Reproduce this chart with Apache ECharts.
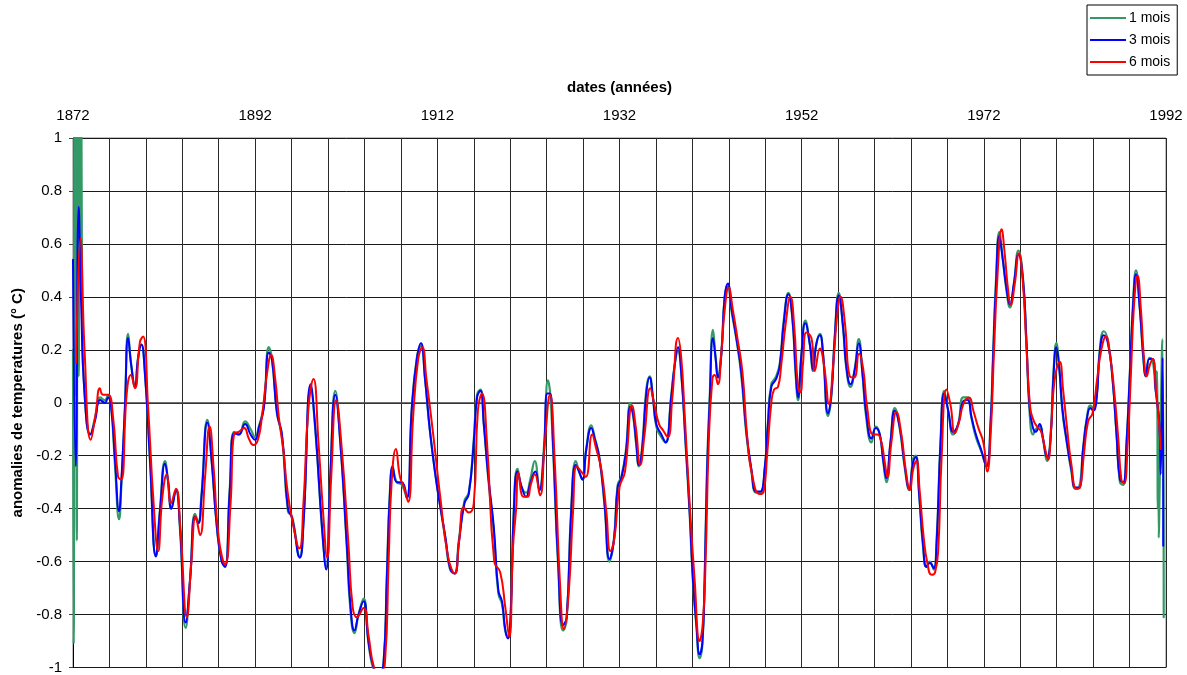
<!DOCTYPE html>
<html>
<head>
<meta charset="utf-8">
<script src="https://cdn.jsdelivr.net/npm/echarts@6/dist/echarts.min.js"></script>
<style>
html,body{margin:0;padding:0;background:#fff;}
#chart{width:1187px;height:675px;}
</style>
</head>
<body>
<div id="chart"></div>
<script>
// ---- data: [year, anomaly °C] ----
const seriesNames = ['1 mois', '3 mois', '6 mois'];
const yearTicks = [1872, 1892, 1912, 1932, 1952, 1972, 1992];

const mois1 = [
[1872.0,0.2],[1872.08,-0.91],[1872.16,1.2],[1872.25,0.03],[1872.33,1.2],[1872.42,-0.52],[1872.5,1.2],[1872.62,0.1],[1872.75,1.2],[1872.84,0.45],[1872.92,1.1],[1873.0,0.3],
[1873.28,0.03],[1873.9,-0.12],[1874.4,-0.06],[1875.0,0.02],[1875.5,0.01],[1875.85,0.03],[1876.2,-0.02],[1876.6,-0.23],[1877.06,-0.44],[1877.3,-0.32],
[1877.7,-0.02],[1878.05,0.26],[1878.4,0.14],[1878.8,0.06],[1879.15,0.17],[1879.5,0.22],[1879.9,0.11],[1880.45,-0.22],[1881.1,-0.58],[1881.55,-0.40],
[1882.1,-0.22],[1882.45,-0.30],[1882.8,-0.40],[1883.3,-0.33],[1883.75,-0.48],[1884.37,-0.85],[1884.85,-0.67],[1885.4,-0.42],[1885.76,-0.45],[1886.1,-0.35],
[1886.75,-0.065],[1887.2,-0.21],[1887.8,-0.47],[1888.33,-0.60],[1888.7,-0.61],[1889.2,-0.33],[1889.7,-0.11],[1890.2,-0.12],[1890.9,-0.07],[1891.5,-0.10],
[1892.0,-0.13],[1892.4,-0.09],[1892.95,-0.01],[1893.5,0.21],[1893.86,0.16],[1894.4,-0.04],[1894.95,-0.13],[1895.6,-0.41],[1896.05,-0.43],[1896.9,-0.58],
[1897.3,-0.45],[1898.1,0.05],[1898.6,-0.10],[1899.35,-0.48],[1899.8,-0.62],[1900.25,-0.27],[1900.8,0.045],[1901.35,-0.15],[1902.07,-0.55],[1902.45,-0.78],
[1902.9,-0.87],[1903.35,-0.80],[1903.9,-0.74],[1904.45,-0.91],[1905.0,-1.01],[1905.5,-1.03],[1906.1,-0.98],[1906.45,-0.66],[1906.8,-0.33],[1907.1,-0.25],
[1907.55,-0.30],[1908.1,-0.31],[1908.65,-0.36],[1909.2,-0.02],[1909.75,0.17],[1910.2,0.215],[1910.65,0.09],[1911.2,-0.11],[1911.9,-0.30],[1912.36,-0.40],
[1912.9,-0.52],[1913.4,-0.63],[1913.9,-0.645],[1914.36,-0.52],[1914.98,-0.37],[1915.45,-0.34],[1916.0,-0.14],[1916.36,0.03],[1916.73,0.05],[1917.1,-0.08],
[1917.6,-0.29],[1918.2,-0.49],[1918.7,-0.72],[1919.1,-0.76],[1919.45,-0.86],[1919.75,-0.885],[1920.05,-0.80],[1920.4,-0.40],[1920.8,-0.25],[1921.27,-0.32],
[1921.75,-0.34],[1922.2,-0.29],[1922.7,-0.22],[1923.2,-0.33],[1923.7,-0.17],[1924.15,0.085],[1924.4,0.03],[1924.7,-0.17],[1925.27,-0.62],[1925.8,-0.86],
[1926.2,-0.82],[1926.7,-0.40],[1927.2,-0.22],[1927.56,-0.26],[1927.93,-0.29],[1928.36,-0.17],[1928.9,-0.085],[1929.27,-0.13],[1929.8,-0.21],[1930.36,-0.39],
[1930.9,-0.60],[1931.4,-0.51],[1931.8,-0.31],[1932.2,-0.28],[1932.7,-0.18],[1933.2,0.0],[1933.5,-0.05],[1933.84,-0.16],[1934.13,-0.24],[1934.5,-0.16],
[1934.94,0.05],[1935.3,0.10],[1935.67,0.02],[1936.04,-0.09],[1936.6,-0.13],[1937.06,-0.15],[1937.68,0.03],[1938.05,0.14],[1938.42,0.195],[1938.78,0.11],
[1939.26,-0.16],[1939.7,-0.42],[1940.07,-0.68],[1940.43,-0.84],[1940.8,-0.965],[1941.1,-0.91],[1941.35,-0.66],[1941.6,-0.26],[1941.9,0.02],[1942.26,0.275],
[1942.56,0.17],[1942.8,0.10],[1943.18,0.19],[1943.55,0.40],[1943.9,0.44],[1944.28,0.35],[1944.83,0.24],[1945.38,0.10],[1945.93,-0.12],[1946.48,-0.26],
[1947.0,-0.34],[1947.46,-0.34],[1947.94,-0.25],[1948.3,-0.07],[1948.67,0.07],[1949.2,0.10],[1949.6,0.15],[1950.03,0.31],[1950.54,0.415],[1950.98,0.32],
[1951.35,0.10],[1951.6,0.01],[1951.97,0.18],[1952.4,0.31],[1952.9,0.22],[1953.25,0.12],[1953.6,0.22],[1954.0,0.26],[1954.35,0.18],[1954.9,-0.05],
[1955.27,0.03],[1955.63,0.25],[1956.07,0.415],[1956.55,0.28],[1956.9,0.13],[1957.36,0.06],[1957.83,0.13],[1958.27,0.24],[1958.67,0.11],[1959.1,-0.06],
[1959.66,-0.15],[1960.14,-0.09],[1960.58,-0.12],[1960.95,-0.22],[1961.3,-0.30],[1961.75,-0.15],[1962.23,-0.02],[1962.78,-0.10],[1963.33,-0.25],[1963.8,-0.33],
[1964.24,-0.21],[1964.53,-0.20],[1964.9,-0.35],[1965.34,-0.55],[1965.7,-0.62],[1966.07,-0.60],[1966.5,-0.63],[1966.8,-0.53],[1967.25,-0.14],[1967.65,0.045],
[1968.09,-0.03],[1968.64,-0.12],[1969.19,-0.08],[1969.74,0.02],[1970.2,0.02],[1970.65,-0.06],[1971.13,-0.13],[1971.68,-0.18],[1972.3,-0.24],[1972.74,-0.07],
[1973.03,0.20],[1973.33,0.46],[1973.7,0.645],[1974.06,0.55],[1974.5,0.42],[1974.86,0.36],[1975.3,0.45],[1975.8,0.575],[1976.3,0.47],[1976.66,0.24],
[1977.03,-0.04],[1977.4,-0.12],[1977.7,-0.10],[1978.13,-0.09],[1978.5,-0.14],[1978.94,-0.22],[1979.3,-0.14],[1979.67,0.13],[1979.96,0.225],[1980.26,0.14],
[1980.62,-0.03],[1981.06,-0.14],[1981.61,-0.26],[1982.06,-0.325],[1982.46,-0.32],[1982.9,-0.17],[1983.34,-0.05],[1983.7,-0.01],[1984.0,-0.02],[1984.37,0.02],
[1984.73,0.20],[1985.17,0.27],[1985.65,0.23],[1986.13,0.09],[1986.57,-0.12],[1986.94,-0.30],[1987.3,-0.31],[1987.67,-0.15],[1988.04,0.12],[1988.4,0.39],
[1988.7,0.50],[1989.14,0.35],[1989.5,0.17],[1989.8,0.10],[1990.17,0.17],[1990.53,0.16],[1990.9,0.04],[1991.0,0.12],[1991.1,-0.40],[1991.15,0.0],
[1991.2,-0.51],[1991.4,-0.1],[1991.6,0.24],[1991.75,-0.81]
];

const mois3 = [
[1872.0,0.54],[1872.3,-0.24],[1872.62,0.74],[1872.9,0.37],[1873.28,0.03],[1873.9,-0.12],[1874.4,-0.07],[1875.0,0.01],[1875.5,0.0],[1875.85,0.02],
[1876.2,-0.02],[1876.6,-0.21],[1877.06,-0.41],[1877.3,-0.30],[1877.7,-0.02],[1878.05,0.245],[1878.4,0.14],[1878.8,0.06],[1879.15,0.17],[1879.5,0.22],
[1879.9,0.11],[1880.45,-0.21],[1881.1,-0.58],[1881.55,-0.41],[1882.1,-0.23],[1882.45,-0.30],[1882.8,-0.40],[1883.3,-0.33],[1883.75,-0.47],[1884.37,-0.83],
[1884.85,-0.67],[1885.4,-0.43],[1885.76,-0.455],[1886.1,-0.36],[1886.75,-0.075],[1887.2,-0.21],[1887.8,-0.47],[1888.33,-0.60],[1888.7,-0.62],[1889.2,-0.34],
[1889.7,-0.115],[1890.2,-0.12],[1890.9,-0.08],[1891.5,-0.12],[1892.0,-0.14],[1892.4,-0.095],[1892.95,-0.02],[1893.5,0.19],[1893.86,0.16],[1894.4,-0.04],
[1894.95,-0.12],[1895.6,-0.40],[1896.05,-0.435],[1896.9,-0.585],[1897.3,-0.46],[1898.1,0.07],[1898.6,-0.095],[1899.35,-0.475],[1899.8,-0.63],[1900.25,-0.28],
[1900.8,0.03],[1901.35,-0.15],[1902.07,-0.54],[1902.45,-0.76],[1902.9,-0.86],[1903.35,-0.80],[1903.9,-0.75],[1904.45,-0.905],[1905.0,-1.0],[1905.5,-1.03],
[1906.1,-0.98],[1906.45,-0.67],[1906.8,-0.34],[1907.1,-0.24],[1907.55,-0.30],[1908.1,-0.30],[1908.65,-0.36],[1909.2,-0.02],[1909.75,0.165],[1910.2,0.225],
[1910.65,0.09],[1911.2,-0.11],[1911.9,-0.30],[1912.36,-0.40],[1912.9,-0.51],[1913.4,-0.625],[1913.9,-0.645],[1914.36,-0.53],[1914.98,-0.38],[1915.45,-0.345],
[1916.0,-0.15],[1916.36,0.02],[1916.73,0.045],[1917.1,-0.08],[1917.6,-0.28],[1918.2,-0.47],[1918.7,-0.71],[1919.1,-0.75],[1919.45,-0.855],[1919.75,-0.89],
[1920.05,-0.80],[1920.4,-0.41],[1920.8,-0.26],[1921.27,-0.32],[1921.75,-0.355],[1922.2,-0.305],[1922.76,-0.26],[1923.2,-0.33],[1923.7,-0.19],[1924.07,0.035],
[1924.36,0.035],[1924.7,-0.15],[1925.27,-0.605],[1925.8,-0.84],[1926.2,-0.81],[1926.7,-0.41],[1927.2,-0.235],[1927.56,-0.26],[1927.93,-0.29],[1928.36,-0.175],
[1928.9,-0.095],[1929.27,-0.135],[1929.8,-0.21],[1930.36,-0.38],[1930.9,-0.59],[1931.4,-0.515],[1931.8,-0.32],[1932.2,-0.285],[1932.7,-0.19],[1933.2,-0.015],
[1933.5,-0.045],[1933.84,-0.15],[1934.13,-0.235],[1934.5,-0.17],[1934.94,0.035],[1935.3,0.095],[1935.67,0.02],[1936.04,-0.08],[1936.6,-0.12],[1937.06,-0.15],
[1937.68,0.02],[1938.05,0.14],[1938.42,0.21],[1938.78,0.115],[1939.26,-0.15],[1939.7,-0.41],[1940.07,-0.67],[1940.43,-0.83],[1940.8,-0.95],[1941.1,-0.905],
[1941.35,-0.67],[1941.6,-0.28],[1941.9,0.0],[1942.26,0.245],[1942.56,0.165],[1942.8,0.095],[1943.18,0.18],[1943.55,0.40],[1943.9,0.45],[1944.28,0.36],
[1944.83,0.245],[1945.38,0.115],[1945.93,-0.11],[1946.48,-0.25],[1947.0,-0.335],[1947.46,-0.335],[1947.94,-0.25],[1948.3,-0.08],[1948.67,0.06],[1949.2,0.09],
[1949.6,0.14],[1950.03,0.30],[1950.54,0.41],[1950.98,0.32],[1951.35,0.115],[1951.6,0.02],[1951.97,0.18],[1952.4,0.30],[1952.9,0.22],[1953.25,0.125],
[1953.6,0.22],[1954.0,0.255],[1954.35,0.185],[1954.9,-0.04],[1955.27,0.035],[1955.63,0.245],[1956.07,0.405],[1956.55,0.285],[1956.9,0.14],[1957.36,0.07],
[1957.83,0.125],[1958.27,0.225],[1958.67,0.115],[1959.1,-0.045],[1959.66,-0.135],[1960.14,-0.095],[1960.58,-0.12],[1960.95,-0.215],[1961.3,-0.285],[1961.75,-0.15],
[1962.23,-0.03],[1962.78,-0.095],[1963.33,-0.24],[1963.8,-0.325],[1964.24,-0.225],[1964.53,-0.205],[1964.9,-0.345],[1965.34,-0.54],[1965.7,-0.62],[1966.07,-0.605],
[1966.5,-0.625],[1966.8,-0.54],[1967.25,-0.15],[1967.65,0.035],[1968.09,-0.03],[1968.64,-0.11],[1969.19,-0.08],[1969.74,0.005],[1970.2,0.01],[1970.65,-0.055],
[1971.13,-0.12],[1971.68,-0.175],[1972.3,-0.24],[1972.74,-0.08],[1973.03,0.18],[1973.33,0.44],[1973.7,0.63],[1974.06,0.545],[1974.5,0.43],[1974.86,0.37],
[1975.3,0.45],[1975.8,0.56],[1976.3,0.465],[1976.66,0.245],[1977.03,-0.02],[1977.4,-0.095],[1977.7,-0.11],[1978.13,-0.08],[1978.5,-0.135],[1978.94,-0.205],
[1979.3,-0.15],[1979.67,0.115],[1979.96,0.21],[1980.26,0.14],[1980.62,-0.02],[1981.06,-0.135],[1981.61,-0.25],[1982.06,-0.32],[1982.46,-0.32],[1982.9,-0.175],
[1983.34,-0.055],[1983.7,-0.02],[1984.0,-0.03],[1984.37,0.01],[1984.73,0.19],[1985.17,0.255],[1985.65,0.22],[1986.13,0.09],[1986.57,-0.12],[1986.94,-0.29],
[1987.3,-0.30],[1987.67,-0.15],[1988.04,0.115],[1988.4,0.375],[1988.7,0.485],[1989.14,0.35],[1989.5,0.18],[1989.8,0.10],[1990.17,0.165],[1990.53,0.165],
[1990.9,0.035],[1991.27,-0.08],[1991.42,-0.27],[1991.62,0.17],[1991.7,-0.54]
];

const mois6 = [
[1872.35,0.15],[1872.82,0.62],[1873.28,0.19],[1873.95,-0.14],[1874.5,-0.04],[1874.95,0.055],[1875.3,0.03],[1875.85,0.03],[1876.4,-0.055],[1876.95,-0.28],
[1877.3,-0.29],[1877.9,0.035],[1878.35,0.105],[1878.8,0.055],[1879.35,0.23],[1879.7,0.25],[1880.25,-0.02],[1880.85,-0.38],[1881.35,-0.56],[1881.8,-0.36],
[1882.3,-0.27],[1882.75,-0.38],[1883.3,-0.325],[1883.8,-0.48],[1884.5,-0.81],[1885.0,-0.60],[1885.47,-0.43],[1885.95,-0.50],[1886.5,-0.28],[1887.0,-0.09],
[1887.45,-0.25],[1888.0,-0.51],[1888.7,-0.61],[1889.3,-0.38],[1889.7,-0.115],[1890.2,-0.11],[1890.8,-0.095],[1891.3,-0.135],[1891.8,-0.16],[1892.3,-0.14],
[1892.77,-0.045],[1893.3,0.11],[1893.75,0.18],[1894.2,0.09],[1894.6,-0.055],[1895.1,-0.18],[1895.5,-0.32],[1896.05,-0.44],[1896.85,-0.55],[1897.3,-0.38],
[1897.85,-0.02],[1898.4,0.09],[1898.95,-0.15],[1899.45,-0.41],[1899.9,-0.585],[1900.35,-0.28],[1900.9,0.01],[1901.5,-0.17],[1902.25,-0.54],[1902.7,-0.77],
[1903.15,-0.81],[1903.9,-0.775],[1904.45,-0.88],[1905.05,-1.0],[1905.7,-1.03],[1906.25,-0.98],[1906.65,-0.60],[1907.0,-0.29],[1907.45,-0.175],[1907.9,-0.28],
[1908.35,-0.32],[1908.8,-0.375],[1909.35,-0.05],[1909.9,0.165],[1910.35,0.21],[1910.8,0.09],[1911.55,-0.12],[1912.3,-0.35],[1913.2,-0.585],[1913.9,-0.645],
[1914.4,-0.52],[1914.9,-0.395],[1915.45,-0.415],[1916.0,-0.38],[1916.45,-0.03],[1916.9,0.035],[1917.45,-0.15],[1918.25,-0.60],[1918.9,-0.64],[1919.45,-0.77],
[1919.9,-0.885],[1920.3,-0.55],[1920.65,-0.40],[1920.9,-0.265],[1921.45,-0.355],[1921.9,-0.355],[1922.25,-0.31],[1922.7,-0.27],[1923.27,-0.35],[1923.8,-0.15],
[1924.36,0.03],[1924.9,-0.23],[1925.45,-0.67],[1925.9,-0.855],[1926.4,-0.73],[1926.9,-0.41],[1927.3,-0.24],[1927.8,-0.26],[1928.3,-0.28],[1929.0,-0.12],
[1929.45,-0.175],[1930.0,-0.25],[1930.55,-0.41],[1931.0,-0.56],[1931.45,-0.51],[1932.0,-0.32],[1932.6,-0.26],[1933.38,-0.01],[1933.8,-0.095],[1934.28,-0.235],
[1934.75,-0.12],[1935.38,0.055],[1935.85,-0.01],[1936.33,-0.08],[1936.8,-0.105],[1937.3,-0.13],[1937.8,0.02],[1938.42,0.245],[1938.78,0.17],[1939.15,-0.04],
[1939.7,-0.38],[1940.25,-0.67],[1940.8,-0.90],[1941.15,-0.83],[1941.45,-0.6],[1941.8,-0.15],[1942.2,0.09],[1942.45,0.105],[1942.8,0.07],[1943.18,0.19],
[1943.55,0.35],[1943.98,0.435],[1944.45,0.35],[1944.94,0.245],[1945.5,0.115],[1946.0,-0.12],[1946.55,-0.27],[1947.4,-0.345],[1947.83,-0.335],[1948.2,-0.2],
[1948.67,0.0],[1948.97,0.05],[1949.4,0.06],[1949.75,0.14],[1950.25,0.30],[1950.76,0.40],[1951.2,0.28],[1951.55,0.08],[1951.86,0.04],[1952.15,0.15],
[1952.52,0.265],[1953.07,0.245],[1953.44,0.12],[1954.0,0.205],[1954.5,0.13],[1955.0,-0.005],[1955.45,0.14],[1955.9,0.33],[1956.26,0.40],[1956.75,0.30],
[1957.28,0.10],[1957.76,0.095],[1958.3,0.185],[1958.75,0.13],[1959.2,-0.02],[1959.85,-0.12],[1960.32,-0.12],[1960.76,-0.15],[1961.1,-0.22],[1961.42,-0.28],
[1961.85,-0.15],[1962.4,-0.035],[1962.95,-0.12],[1963.45,-0.26],[1963.88,-0.33],[1964.25,-0.25],[1964.6,-0.22],[1964.95,-0.33],[1965.4,-0.51],[1965.8,-0.605],
[1966.26,-0.65],[1966.65,-0.64],[1967.0,-0.55],[1967.35,-0.22],[1967.9,0.05],[1968.35,-0.01],[1968.82,-0.115],[1969.3,-0.07],[1969.75,-0.005],[1970.36,0.02],
[1970.85,-0.03],[1971.4,-0.095],[1971.95,-0.15],[1972.37,-0.26],[1972.75,-0.12],[1973.1,0.18],[1973.5,0.48],[1973.95,0.655],[1974.3,0.56],[1974.65,0.43],
[1974.94,0.37],[1975.4,0.45],[1975.85,0.565],[1976.25,0.47],[1976.7,0.2],[1977.1,-0.02],[1977.5,-0.07],[1977.95,-0.095],[1978.3,-0.11],[1978.7,-0.17],
[1979.05,-0.215],[1979.4,-0.09],[1979.75,0.08],[1980.33,0.155],[1980.7,0.05],[1981.15,-0.10],[1981.6,-0.23],[1982.17,-0.325],[1982.55,-0.32],[1983.0,-0.19],
[1983.45,-0.07],[1983.93,-0.04],[1984.44,0.09],[1984.9,0.2],[1985.4,0.25],[1985.85,0.18],[1986.27,0.06],[1986.75,-0.13],[1987.1,-0.29],[1987.4,-0.305],
[1987.8,-0.15],[1988.15,0.11],[1988.5,0.375],[1988.88,0.48],[1989.25,0.35],[1989.6,0.16],[1989.87,0.10],[1990.2,0.14],[1990.53,0.165],[1990.9,0.05],
[1991.25,-0.08],[1991.4,-0.175]
];

const colors = ['#339966', '#0000ff', '#ff0000'];
const FONT = '"Liberation Sans", Arial, Helvetica, sans-serif';

const chart = echarts.init(document.getElementById('chart'), null, {renderer: 'canvas'});

function lineSeries(name, data, color, width, z) {
  return {
    name: name, type: 'line', data: data, xAxisIndex: 0, yAxisIndex: 0,
    symbol: 'none', smooth: 0.5, clip: true, z: z,
    lineStyle: {color: color, width: width, join: 'round', cap: 'round'}, itemStyle: {color: color},
    emphasis: {disabled: true}
  };
}

chart.setOption({
  animation: false,
  backgroundColor: '#ffffff',
  textStyle: {fontFamily: FONT},
  grid: {left: 73, right: 21, top: 138, bottom: 4, show: true, borderColor: '#808080', borderWidth: 1, backgroundColor: 'transparent'},
  legend: {
    data: seriesNames, orient: 'vertical', left: 1087, top: 5,
    backgroundColor: '#fff', borderColor: '#000', borderWidth: 1,
    padding: [6, 7, 6, 3], itemGap: 8, itemWidth: 36, itemHeight: 2, icon: 'rect',
    textStyle: {fontFamily: FONT, fontSize: 14, color: '#000', lineHeight: 14, padding: [0, 0, 0, -2]}
  },
  xAxis: [
    {
      type: 'value', position: 'top', min: yearTicks[0], max: yearTicks[yearTicks.length - 1], interval: 20,
      name: 'dates (années)', nameLocation: 'middle', nameGap: 43,
      nameTextStyle: {fontFamily: FONT, fontSize: 15, fontWeight: 'bold', color: '#000'},
      axisLine: {show: true, lineStyle: {color: '#404040', width: 1.5}},
      axisTick: {show: true, length: 4, lineStyle: {color: '#404040'}},
      axisLabel: {show: true, margin: 15, fontFamily: FONT, fontSize: 15, color: '#000', formatter: v => String(v)},
      splitLine: {show: false}
    },
    {
      type: 'value', position: 'bottom', min: yearTicks[0], max: yearTicks[yearTicks.length - 1], interval: 4,
      axisLine: {show: false}, axisTick: {show: false}, axisLabel: {show: false},
      splitLine: {show: true, lineStyle: {color: '#2a2a2a', width: 1}}
    }
  ],
  yAxis: {
    type: 'value', min: -1, max: 1, interval: 0.2,
    name: 'anomalies de temperatures (° C)', nameLocation: 'middle', nameGap: 47, nameRotate: 90,
    nameTextStyle: {fontFamily: FONT, fontSize: 15, fontWeight: 'bold', color: '#000'},
    axisLine: {show: true, onZero: false, lineStyle: {color: '#000', width: 1}},
    axisTick: {show: true, length: 4, lineStyle: {color: '#404040'}},
    axisLabel: {margin: 11, fontFamily: FONT, fontSize: 15, color: '#000', formatter: v => String(Number(v.toFixed(1)))},
    splitLine: {show: true, lineStyle: {color: '#1a1a1a', width: 1}}
  },
  series: [
    lineSeries(seriesNames[0], mois1, colors[0], 2.2, 2),
    lineSeries(seriesNames[1], mois3, colors[1], 2, 3),
    lineSeries(seriesNames[2], mois6, colors[2], 2, 4)
  ]
});
</script>
</body>
</html>
